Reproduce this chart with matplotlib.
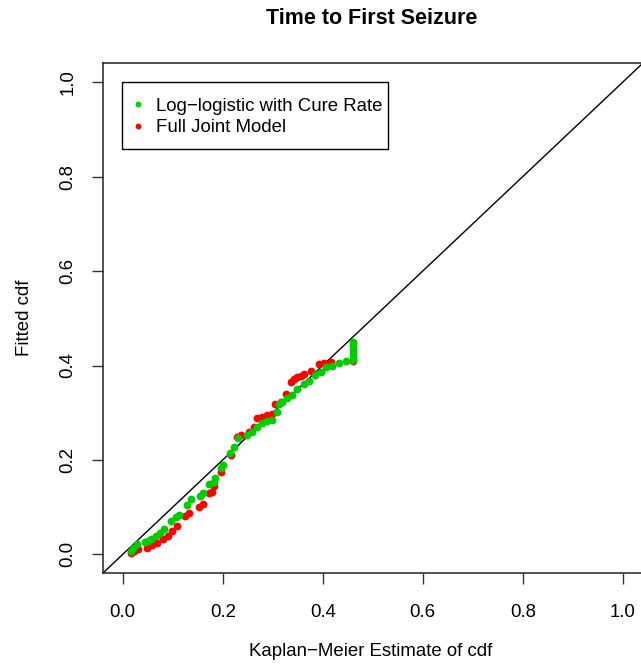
import matplotlib
matplotlib.use("Agg")
import matplotlib.pyplot as plt
from matplotlib.lines import Line2D
from matplotlib.patches import Rectangle

plt.rcParams['font.family'] = ['Liberation Sans', 'DejaVu Sans']

# Data: Kaplan-Meier estimate of cdf (x) vs fitted cdf (y)
ll_km = [0.016, 0.021, 0.029, 0.045, 0.051, 0.057, 0.066, 0.075, 0.083, 0.097,
         0.106, 0.113, 0.128, 0.136, 0.155, 0.161, 0.173, 0.183, 0.184, 0.196,
         0.201, 0.215, 0.223, 0.231, 0.249, 0.259, 0.269, 0.279, 0.289, 0.299,
         0.308, 0.313, 0.319, 0.329, 0.339, 0.349, 0.363, 0.373, 0.384, 0.396,
         0.406, 0.419, 0.433, 0.446, 0.461, 0.461, 0.461, 0.461, 0.461, 0.461]
ll_fit = [0.007, 0.014, 0.021, 0.026, 0.028, 0.032, 0.039, 0.046, 0.054, 0.070,
          0.079, 0.084, 0.105, 0.118, 0.124, 0.130, 0.149, 0.154, 0.161, 0.183,
          0.189, 0.214, 0.228, 0.246, 0.253, 0.260, 0.270, 0.279, 0.283, 0.284,
          0.302, 0.318, 0.323, 0.331, 0.337, 0.351, 0.361, 0.368, 0.379, 0.386,
          0.396, 0.400, 0.405, 0.409, 0.411, 0.418, 0.426, 0.434, 0.442, 0.450]

fj_km = [0.016, 0.022, 0.031, 0.049, 0.059, 0.069, 0.081, 0.091, 0.099, 0.109,
         0.124, 0.133, 0.153, 0.161, 0.173, 0.179, 0.183, 0.196, 0.216, 0.229,
         0.236, 0.253, 0.263, 0.269, 0.279, 0.289, 0.299, 0.304, 0.316, 0.326,
         0.336, 0.343, 0.349, 0.356, 0.363, 0.376, 0.393, 0.403, 0.416, 0.461]
fj_fit = [0.004, 0.007, 0.011, 0.014, 0.019, 0.025, 0.032, 0.039, 0.049, 0.060,
          0.081, 0.088, 0.100, 0.107, 0.131, 0.133, 0.144, 0.175, 0.211, 0.249,
          0.252, 0.260, 0.270, 0.288, 0.291, 0.295, 0.297, 0.318, 0.323, 0.340,
          0.366, 0.372, 0.375, 0.378, 0.382, 0.389, 0.404, 0.405, 0.407, 0.410]

ticks = [0.0, 0.2, 0.4, 0.6, 0.8, 1.0]
tick_labels = ["0.0", "0.2", "0.4", "0.6", "0.8", "1.0"]
series_labels = ["Log\u2212logistic with Cure Rate", "Full Joint Model"]
green = "#00CD00"
red = "#FF0000"

W, H = 641, 666
fig = plt.figure(figsize=(W / 100, H / 100), dpi=100)
# axes box in pixels: left 102.7, right 642.7, top 63.3, bottom 573.3
ax = fig.add_axes([102.7 / W, (H - 573.3) / H, 540.0 / W, 510.0 / H])
ax.set_xlim(-0.04, 1.04)
ax.set_ylim(-0.04, 1.04)

ax.plot([-0.04, 1.04], [-0.04, 1.04], color="black", lw=1.0, zorder=2)
ax.plot(fj_km, fj_fit, 'o', color=red, ms=5.6, mec='none', zorder=3)
ax.plot(ll_km, ll_fit, 'o', color=green, ms=5.6, mec='none', zorder=4)

fs = 13.4
ax.set_xticks(ticks)
ax.set_xticklabels(tick_labels, fontsize=fs)
ax.set_yticks(ticks)
ax.set_yticklabels(tick_labels, fontsize=fs, rotation=90, va='center')
ax.tick_params(axis='both', direction='out', length=8, width=1.0, color='#333333')
ax.tick_params(axis='x', pad=14)
ax.tick_params(axis='y', pad=11)
for s in ax.spines.values():
    s.set_linewidth(1.1)
    s.set_color('#222222')

fig.text(372 / W, 1 - 18 / H, "Time to First Seizure", ha='center', va='center',
         fontsize=15.5, fontweight='bold')
fig.text(371 / W, 1 - 651 / H, "Kaplan\u2212Meier Estimate of cdf", ha='center', va='center',
         fontsize=fs)
fig.text(24.5 / W, 1 - 318 / H, "Fitted cdf", ha='center', va='center',
         rotation=90, fontsize=fs)

# legend frame (pixels: 121.7..387.7 x 81.7..149)
frame = Rectangle((121.7 / W, 1 - 149.0 / H), 266.0 / W, 67.3 / H,
                  transform=fig.transFigure, fill=True, facecolor='white',
                  edgecolor='black', lw=1.0, zorder=5, clip_on=False)
ax.add_patch(frame)
handles = [Line2D([], [], marker='o', ls='none', color=green, mec='none', ms=4.2),
           Line2D([], [], marker='o', ls='none', color=red, mec='none', ms=4.2)]
leg = ax.legend(handles, series_labels, loc='upper left',
                bbox_to_anchor=(128.8 / W, 1 - 97.5 / H), bbox_transform=fig.transFigure,
                fontsize=fs, frameon=False, borderaxespad=0, borderpad=0,
                handlelength=1.0, handletextpad=0.45, labelspacing=0.25)
leg.set_zorder(6)

fig.savefig("out.png", dpi=100)
